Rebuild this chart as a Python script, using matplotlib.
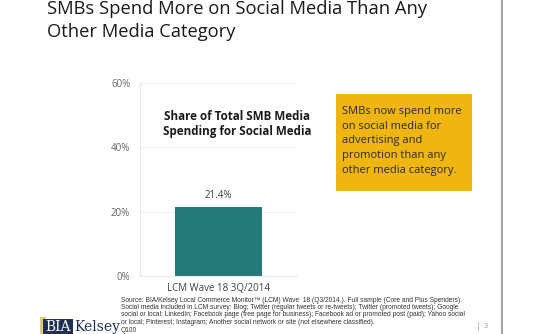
import matplotlib
matplotlib.use("Agg")
import matplotlib.pyplot as plt
from matplotlib.patches import Rectangle
from matplotlib.lines import Line2D

categories = ["LCM Wave 18 3Q/2014"]
values = [21.4]
yticks = [0, 20, 40, 60]
ytick_labels = ["0%", "20%", "40%", "60%"]

W, H = 540, 334
fig = plt.figure(figsize=(5.4, 3.34), dpi=100)
fig.patch.set_facecolor("white")

def fx(x): return x / W
def fy(y): return 1 - y / H

# Slide title (top line partially cut in the original)
fig.text(fx(47), fy(8.5), "SMBs Spend More on Social Media Than Any", fontsize=13.2,
         family="Open Sans", color="#1a1a1a", va="center", ha="left")
fig.text(fx(47), fy(32), "Other Media Category", fontsize=13.2,
         family="Open Sans", color="#1a1a1a", va="center", ha="left")

# Right vertical rule
fig.add_artist(Line2D([fx(502), fx(502)], [0, 1], color="#a6a6a6", lw=1.5))

# Chart axes
ax = fig.add_axes([fx(140), fy(276), fx(297 - 140), (276 - 83) / H])
x = range(len(categories))
ax.bar(x, values, width=0.56, color="#237A78")
ax.set_xlim(-0.5, 0.5)
ax.set_ylim(0, 60)
ax.set_yticks(yticks)
ax.set_yticklabels(ytick_labels, family="Open Sans", fontsize=7, color="#666666")
ax.set_xticks(list(x))
ax.set_xticklabels(categories, family="Open Sans", fontsize=7, color="#404040")
ax.tick_params(length=0, pad=7)
ax.tick_params(axis="x", pad=5)
ax.grid(axis="y", color="#f0f0f0", lw=0.8)
ax.set_axisbelow(True)
for s in ["top", "right"]:
    ax.spines[s].set_visible(False)
ax.spines["left"].set_color("#e8e8e8")
ax.spines["bottom"].set_color("#e8e8e8")
for xi, v in zip(x, values):
    ax.text(xi, v + 3.5, f"{v:.1f}%", ha="center", va="center",
            family="Open Sans", fontsize=7, color="#404040")
ax.text(0.62, 0.79, "Share of Total SMB Media\nSpending for Social Media",
        transform=ax.transAxes, ha="center", va="center", fontsize=8.4,
        fontweight="bold", family="Open Sans", color="#1a1a1a", linespacing=1.2)

# Yellow callout
fig.add_artist(Rectangle((fx(336), fy(191)), fx(472 - 336), (191 - 94) / H,
                         facecolor="#EFB511", edgecolor="none"))
fig.text(fx(342), fy(141), "SMBs now spend more\non social media for\nadvertising and\npromotion than any\nother media category.",
         fontsize=8, family="Open Sans", color="#2a2a2a", va="center", ha="left",
         linespacing=1.45)

# Source footnote
src = ("Source: BIA/Kelsey Local Commerce Monitor\u2122 (LCM) Wave  18 (Q3/2014.). Full sample (Core and Plus Spenders).\n"
       "Social media included in LCM survey: Blog; Twitter (regular tweets or re-tweets); Twitter (promoted tweets); Google\n"
       "social or local; LinkedIn; Facebook page (free page for business); Facebook ad or promoted post (paid); Yahoo social\n"
       "or local; Pinterest; Instagram; Another social network or site (not elsewhere classified).\n"
       "Q100")
fig.text(fx(121), fy(296.5), src, fontsize=4.75, family="Liberation Sans", color="#333333",
         va="top", ha="left", linespacing=1.1)

# Logo
fig.add_artist(Rectangle((fx(40), fy(334)), fx(6), 17 / H, facecolor="#E3C77A", edgecolor="none"))
fig.add_artist(Rectangle((fx(43), fy(334)), fx(30), 15 / H, facecolor="#1F2F55", edgecolor="none"))
fig.text(fx(45), fy(327), "BIA", fontsize=10, family="DejaVu Serif", color="white", va="center", ha="left")
fig.text(fx(74), fy(327), "Kelsey", fontsize=10, family="DejaVu Serif", color="#1F2F55", va="center", ha="left")

# Page number
fig.add_artist(Line2D([fx(478), fx(478)], [fy(322), fy(330)], color="#bfbfbf", lw=0.8))
fig.text(fx(484), fy(326), "3", fontsize=5, family="Open Sans", color="#8c8c8c", va="center", ha="left")

fig.savefig("out.png", dpi=100, facecolor="white")
